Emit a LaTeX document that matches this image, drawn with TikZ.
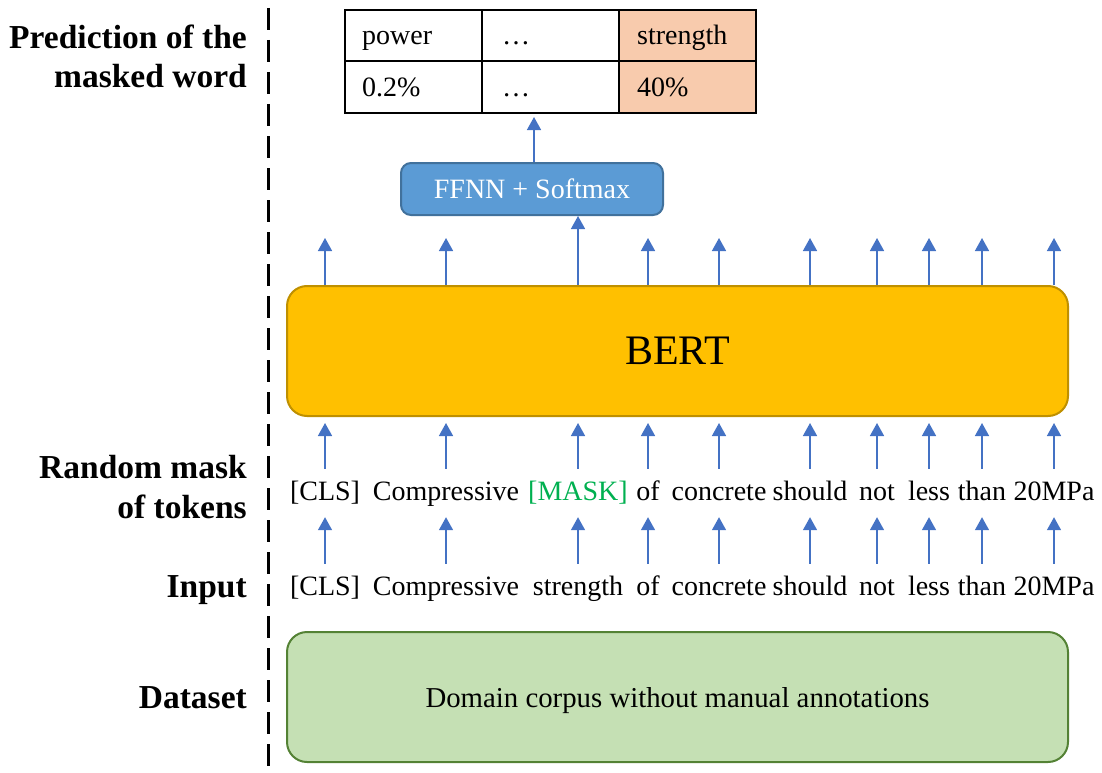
\documentclass[tikz,border=0pt]{standalone}
\usepackage{fontspec}
\setmainfont{Liberation Serif}
\usetikzlibrary{arrows.meta}
\definecolor{arrblue}{HTML}{4472C4}
\definecolor{bertfill}{HTML}{FFC000}
\definecolor{bertdraw}{HTML}{BF9000}
\definecolor{ffnnfill}{HTML}{5B9BD5}
\definecolor{ffnndraw}{HTML}{41719C}
\definecolor{datafill}{HTML}{C5E0B4}
\definecolor{datadraw}{HTML}{548235}
\definecolor{hlcell}{HTML}{F8CBAD}
\definecolor{maskgreen}{HTML}{00B050}
\tikzset{
  arr/.style={draw=arrblue, line width=1.5pt, -{Triangle[width=14pt,length=13pt]}},
  tok/.style={font=\fontsize{28}{34}\selectfont, anchor=base, text height=20pt, text depth=6pt, inner xsep=0pt, inner ysep=11pt},
  lab/.style={font=\fontsize{33.5}{39.5}\selectfont\bfseries, align=right, anchor=base east, inner sep=0pt},
  cell/.style={draw=black, line width=2pt, minimum width=137pt, minimum height=51.5pt, anchor=north west, inner sep=0pt},
  celltxt/.style={font=\fontsize{28}{34}\selectfont, anchor=base west, inner sep=0pt},
  bigbox/.style={rounded corners=20pt, line width=2pt},
}
\begin{document}
\begin{tikzpicture}[x=1pt, y=-1pt]
\useasboundingbox (0,0) rectangle (1102,773);
% dashed separator
\coordinate (dtop) at (268,8);
\coordinate (dbot) at (268,773);
\draw[line width=3pt, dash pattern=on 22pt off 10pt] (dtop) -- (dbot);
% left labels
\node[lab] (lpred) at (247,88) {Prediction of the\\masked word};
\node[lab] (lrand) at (247,518) {Random mask\\of tokens};
\node[lab] (linput) at (247,597) {Input};
\node[lab] (ldata) at (247,708) {Dataset};
% table
\node[cell] (c11) at (344,9) {};
\node[cell] (c12) at (481,9) {};
\node[cell, fill=hlcell] (c13) at (618,9) {};
\node[cell] (c21) at (344,60.5) {};
\node[cell] (c22) at (481,60.5) {};
\node[cell, fill=hlcell] (c23) at (618,60.5) {};
\node[celltxt] (t11) at (362,45) {power};
\node[celltxt] (t12) at (502,45) {\dots};
\node[celltxt] (t13) at (637,45) {strength};
\node[celltxt] (t21) at (362,97) {0.2\%};
\node[celltxt] (t22) at (502,97) {\dots};
\node[celltxt] (t23) at (637,97) {40\%};
% FFNN
\node[draw=ffnndraw, fill=ffnnfill, line width=2pt, rounded corners=10pt,
      minimum width=262pt, minimum height=52pt, text=white,
      font=\fontsize{28}{34}\selectfont] (ffnn) at (532,189) {FFNN + Softmax};
\coordinate (tabin) at (534,112);
\draw[arr, shorten >=5pt] (ffnn.north -| tabin) -- (tabin);
% BERT
\node[draw=bertdraw, fill=bertfill, bigbox, minimum width=781pt, minimum height=130pt,
      font=\fontsize{42}{50}\selectfont] (bert) at (677.5,351) {BERT};
% dataset
\node[draw=datadraw, fill=datafill, bigbox, minimum width=781pt, minimum height=130pt,
      text depth=0pt, font=\fontsize{28.8}{34}\selectfont] (data) at (677.5,697) {Domain corpus without manual annotations};
% tokens, masked row
\node[tok] (m1) at (325,500) {[CLS]};
\node[tok] (m2) at (446,500) {Compressive};
\node[tok, text=maskgreen] (m3) at (578,500) {[MASK]};
\node[tok] (m4) at (648,500) {of};
\node[tok] (m5) at (719,500) {concrete};
\node[tok] (m6) at (810,500) {should};
\node[tok] (m7) at (877,500) {not};
\node[tok] (m8) at (929,500) {less};
\node[tok] (m9) at (982,500) {than};
\node[tok] (m10) at (1054,500) {20MPa};
% tokens, input row
\node[tok] (i1) at (325,595) {[CLS]};
\node[tok] (i2) at (446,595) {Compressive};
\node[tok] (i3) at (578,595) {strength};
\node[tok] (i4) at (648,595) {of};
\node[tok] (i5) at (719,595) {concrete};
\node[tok] (i6) at (810,595) {should};
\node[tok] (i7) at (877,595) {not};
\node[tok] (i8) at (929,595) {less};
\node[tok] (i9) at (982,595) {than};
\node[tok] (i10) at (1054,595) {20MPa};
\foreach \k in {1,...,10} {
  \draw[arr] (i\k.north) -- (m\k.south);
  \draw[arr, shorten >=6pt] (m\k.north) -- (m\k.north |- bert.south);
}
% outputs above BERT
\foreach \k/\x in {1/325,2/446,4/648,5/719,6/810,7/877,8/929,9/982,10/1054} {
  \coordinate (o\k) at (\x,238);
  \draw[arr] (o\k |- bert.north) -- (o\k);
}
\draw[arr] (m3.north |- bert.north) -- (m3.north |- ffnn.south);
\end{tikzpicture}
\end{document}
